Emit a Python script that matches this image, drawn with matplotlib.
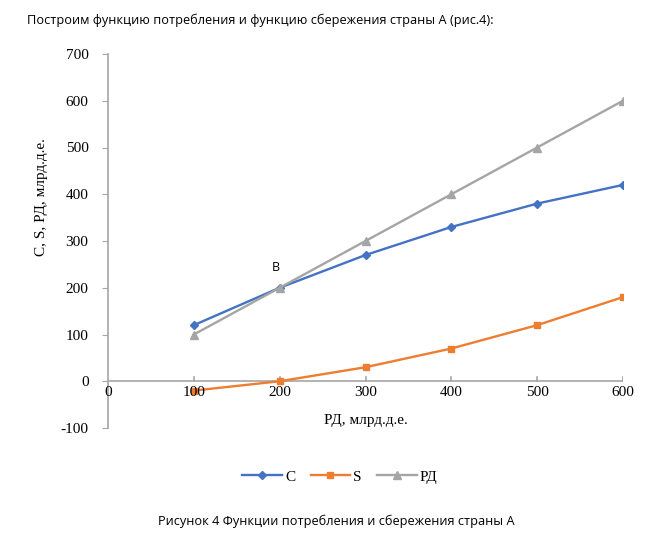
import matplotlib
matplotlib.use("Agg")
import matplotlib.pyplot as plt

income = [100, 200, 300, 400, 500, 600]
consumption = [120, 200, 270, 330, 380, 420]
savings = [-20, 0, 30, 70, 120, 180]
disposable = [100, 200, 300, 400, 500, 600]

SERIES = ["C", "S", "РД"]
COLORS = ["#4472C4", "#ED7D31", "#A5A5A5"]
MARKERS = ["D", "s", "^"]
SIZES = [4, 5, 5.5]

fig = plt.figure(figsize=(6.72, 5.40), dpi=100)
ax = fig.add_axes([108 / 672, 112 / 540, 515 / 672, 374 / 540])

for vals, name, col, mk, ms in zip([consumption, savings, disposable],
                                   SERIES, COLORS, MARKERS, SIZES):
    ax.plot(income, vals, color=col, marker=mk, markersize=ms,
            linewidth=1.7, label=name, zorder=3)

serif = "Liberation Serif"
ax.set_xlim(0, 600)
ax.set_ylim(-100, 700)
ax.set_xticks(range(0, 601, 100))
ax.set_yticks(range(-100, 701, 100))
ax.set_yticklabels([str(v) for v in range(-100, 701, 100)],
                   fontfamily=serif, fontsize=11)

for s in ["top", "right", "bottom"]:
    ax.spines[s].set_visible(False)
ax.spines["left"].set_color("#A6A6A6")
ax.spines["left"].set_linewidth(1.2)
ax.axhline(0, color="#A6A6A6", linewidth=1.2, zorder=1)

ax.tick_params(axis="y", direction="out", length=4, color="#A6A6A6", pad=10)
ax.tick_params(axis="x", length=0, labelbottom=False)
# tick marks on the zero line pointing up
for xv in range(100, 601, 100):
    ax.plot([xv, xv], [0, 9], color="#A6A6A6", linewidth=1.2, zorder=1)

# x tick labels sit just below the zero line
for xv in range(0, 601, 100):
    ax.text(xv, -11, str(xv), ha="center", va="top",
            fontfamily=serif, fontsize=11)

ax.text(300, -84, "РД, млрд.д.е.", ha="center", va="center",
        fontfamily=serif, fontsize=11)
fig.text(42 / 672, 1 - 197 / 540, "C, S, РД, млрд.д.е.", rotation=90,
         ha="center", va="center", fontfamily=serif, fontsize=11)

ax.text(195, 243, "В", ha="center", va="center",
        fontfamily="Open Sans", fontsize=9)

fig.legend(loc="center", bbox_to_anchor=(340 / 672, 1 - 477 / 540), ncol=3,
           frameon=False, prop={"family": serif, "size": 11},
           handlelength=2.6, handletextpad=0.2, columnspacing=1.0)

fig.text(27 / 672, 1 - 20 / 540,
         "Построим функцию потребления и функцию сбережения страны А (рис.4):",
         ha="left", va="center", fontfamily="Open Sans", fontsize=9.2)
fig.text(336 / 672, 1 - 521 / 540,
         "Рисунок 4 Функции потребления и сбережения страны А",
         ha="center", va="center", fontfamily="Open Sans", fontsize=9.2)

fig.savefig("out.png", dpi=100)
